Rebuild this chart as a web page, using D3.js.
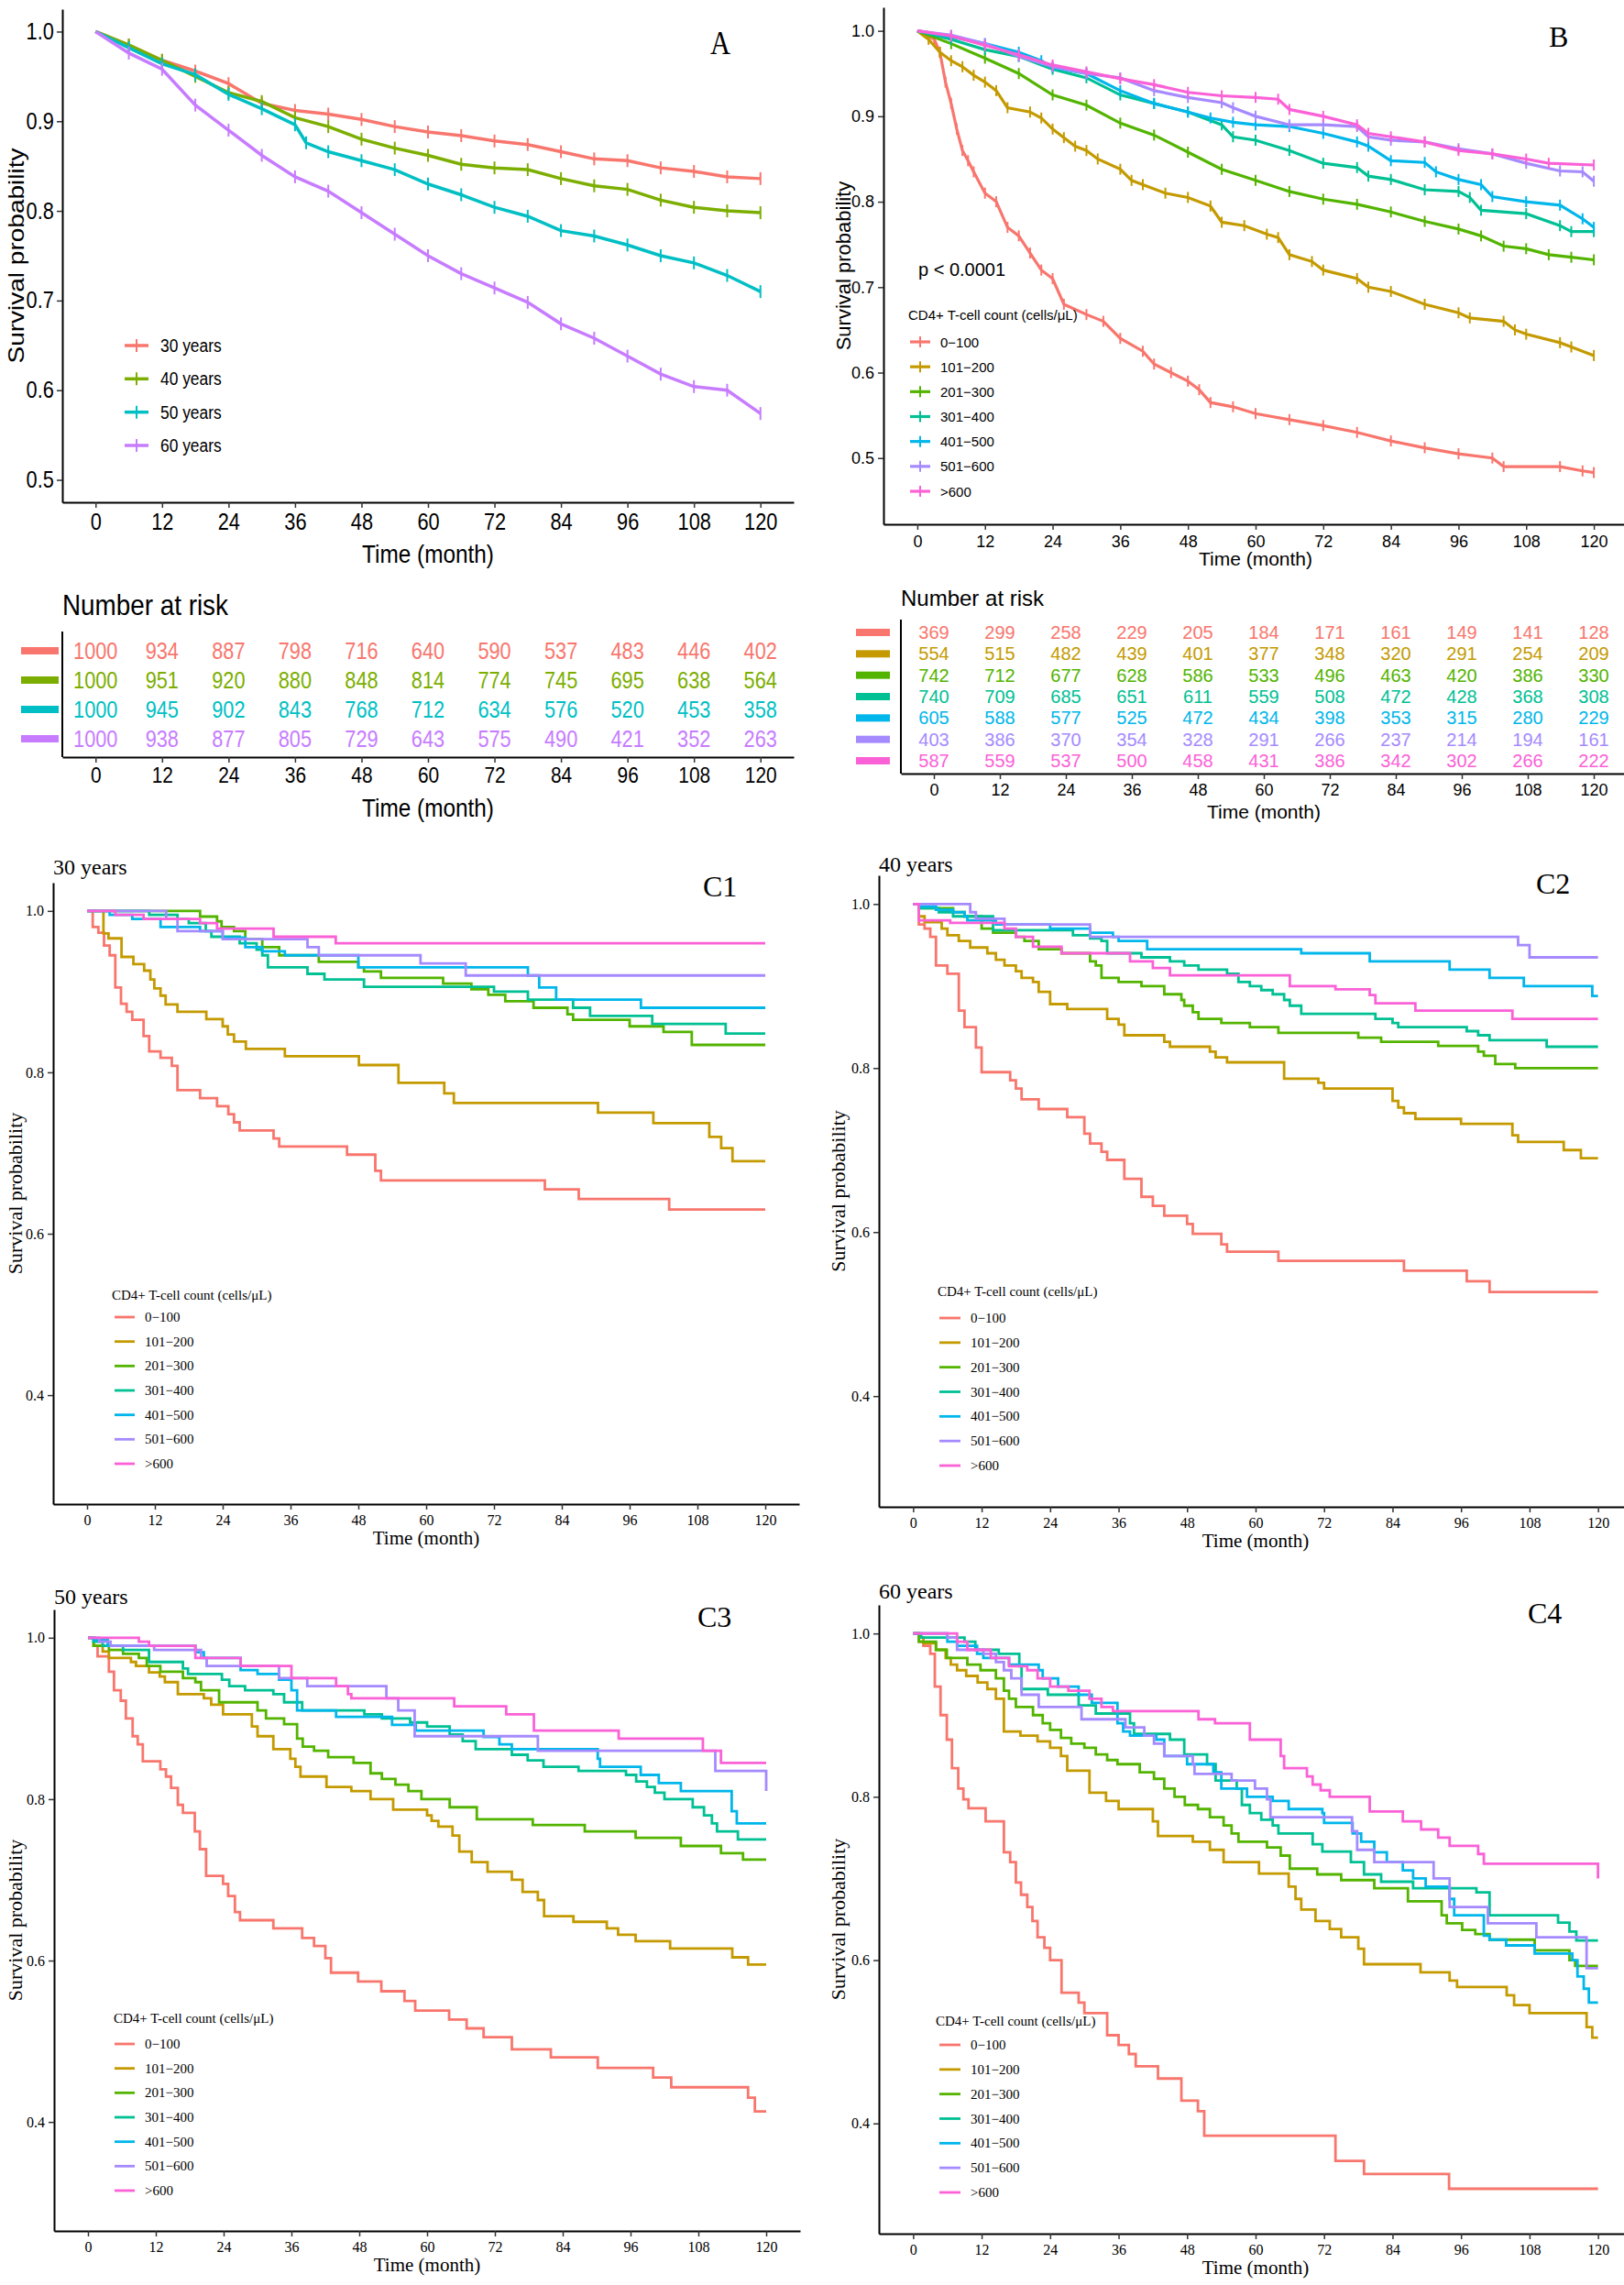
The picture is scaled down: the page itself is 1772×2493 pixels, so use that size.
<!DOCTYPE html>
<html>
<head>
<meta charset="utf-8">
<script src="https://cdn.jsdelivr.net/npm/d3@7"></script>
<style>
  body { margin: 0; background: #fff; }
  svg { display: block; }
</style>
</head>
<body>
<div class="wrapper"></div>
<script>
const width = 1772;
const height = 2493;
const sans = "'Liberation Sans', Arial, sans-serif";
const serif = "'Liberation Serif', 'Times New Roman', serif";

// categories
const months = [0, 12, 24, 36, 48, 60, 72, 84, 96, 108, 120];
const ageGroups = ["30 years", "40 years", "50 years", "60 years"];
const ageColors = ["#F8766D", "#7CAE00", "#00BFC4", "#C77CFF"];
const cd4Groups = ["0\u2212100", "101\u2212200", "201\u2212300", "301\u2212400", "401\u2212500", "501\u2212600", ">600"];
const cd4Colors = ["#F8766D", "#C49A00", "#53B400", "#00C094", "#00B6EB", "#A58AFF", "#FB61D7"];

// panel A: survival by age, [month, survival]
const survA30 = [[0,1],[6,.985],[12,.968],[18,.956],[24,.942],[30,.92],[36,.912],[42,.908],[48,.902],[54,.894],[60,.888],[66,.884],[72,.878],[78,.874],[84,.866],[90,.858],[96,.856],[102,.848],[108,.844],[114,.838],[120,.836]];
const survA40 = [[0,1],[6,.985],[12,.968],[18,.95],[24,.932],[30,.922],[36,.904],[42,.894],[48,.88],[54,.87],[60,.862],[66,.852],[72,.848],[78,.846],[84,.836],[90,.828],[96,.824],[102,.812],[108,.804],[114,.80],[120,.798]];
const survA50 = [[0,1],[6,.982],[12,.964],[18,.952],[24,.93],[30,.914],[36,.896],[38,.876],[42,.866],[48,.856],[54,.846],[60,.83],[66,.818],[72,.804],[78,.794],[84,.778],[90,.772],[96,.762],[102,.75],[108,.742],[114,.728],[120,.71]];
const survA60 = [[0,1],[6,.976],[12,.958],[18,.918],[24,.89],[30,.862],[36,.838],[42,.822],[48,.798],[54,.774],[60,.75],[66,.73],[72,.714],[78,.698],[84,.674],[90,.658],[96,.638],[102,.618],[108,.604],[114,.60],[120,.574]];

// panel A: number at risk
const riskA30 = [1000, 934, 887, 798, 716, 640, 590, 537, 483, 446, 402];
const riskA40 = [1000, 951, 920, 880, 848, 814, 774, 745, 695, 638, 564];
const riskA50 = [1000, 945, 902, 843, 768, 712, 634, 576, 520, 453, 358];
const riskA60 = [1000, 938, 877, 805, 729, 643, 575, 490, 421, 352, 263];

// panel B: survival by CD4 count
const survB1 = [[0,1],[3,.99],[4,.975],[5,.94],[6,.915],[7,.885],[8,.86],[9,.848],[10,.835],[12,.81],[14,.80],[16,.77],[18,.76],[20,.74],[22,.72],[24,.71],[26,.68],[30,.668],[33,.66],[36,.64],[40,.625],[42,.61],[45,.60],[48,.59],[50,.58],[52,.565],[56,.56],[60,.552],[66,.545],[72,.538],[78,.53],[84,.52],[90,.512],[96,.505],[102,.50],[104,.49],[114,.49],[118,.485],[120,.483]];
const survB2 = [[0,1],[2,.99],[4,.975],[6,.965],[8,.958],[10,.948],[12,.94],[14,.93],[16,.91],[20,.905],[22,.898],[24,.885],[26,.875],[28,.865],[30,.86],[32,.85],[36,.838],[38,.825],[40,.82],[44,.81],[48,.805],[52,.795],[54,.776],[58,.772],[62,.762],[64,.758],[66,.738],[70,.73],[72,.72],[78,.71],[80,.70],[84,.695],[90,.68],[96,.67],[98,.664],[104,.66],[106,.65],[108,.645],[114,.635],[116,.63],[120,.62]];
const survB3 = [[0,1],[6,.985],[12,.968],[18,.95],[24,.925],[30,.913],[36,.892],[42,.878],[48,.858],[54,.838],[60,.825],[66,.812],[72,.803],[78,.797],[84,.788],[90,.777],[96,.768],[100,.76],[104,.748],[108,.745],[112,.738],[116,.735],[120,.732]];
const survB4 = [[0,1],[6,.99],[12,.978],[18,.97],[24,.955],[30,.945],[36,.925],[42,.915],[48,.905],[54,.89],[56,.876],[60,.872],[66,.86],[72,.845],[78,.84],[80,.83],[84,.826],[90,.814],[96,.812],[98,.805],[100,.79],[108,.786],[114,.772],[116,.765],[120,.765]];
const survB5 = [[0,1],[6,.993],[12,.985],[18,.975],[22,.965],[24,.957],[30,.95],[36,.93],[42,.915],[48,.905],[52,.898],[56,.893],[60,.89],[66,.888],[72,.88],[78,.87],[80,.865],[84,.848],[90,.846],[92,.835],[96,.826],[100,.82],[102,.806],[108,.80],[114,.796],[118,.78],[120,.77]];
const survB6 = [[0,1],[6,.995],[12,.985],[18,.97],[24,.958],[30,.95],[36,.945],[42,.93],[48,.922],[54,.916],[56,.91],[60,.90],[66,.89],[72,.89],[78,.888],[80,.876],[84,.872],[90,.87],[96,.862],[102,.856],[108,.845],[114,.836],[118,.835],[120,.824]];
const survB7 = [[0,1],[6,.994],[12,.983],[18,.972],[24,.96],[30,.952],[36,.944],[42,.937],[48,.928],[54,.924],[60,.922],[64,.92],[66,.908],[72,.90],[78,.89],[80,.88],[84,.876],[90,.87],[96,.86],[102,.856],[108,.85],[112,.845],[120,.843]];

// panel B: number at risk
const riskB1 = [369, 299, 258, 229, 205, 184, 171, 161, 149, 141, 128];
const riskB2 = [554, 515, 482, 439, 401, 377, 348, 320, 291, 254, 209];
const riskB3 = [742, 712, 677, 628, 586, 533, 496, 463, 420, 386, 330];
const riskB4 = [740, 709, 685, 651, 611, 559, 508, 472, 428, 368, 308];
const riskB5 = [605, 588, 577, 525, 472, 434, 398, 353, 315, 280, 229];
const riskB6 = [403, 386, 370, 354, 328, 291, 266, 237, 214, 194, 161];
const riskB7 = [587, 559, 537, 500, 458, 431, 386, 342, 302, 266, 222];

// panel C1: 30 years, step points [month, survival after step]
const c1s1 = [[0,1],[1,.98],[2,.973],[3,.957],[4,.945],[5,.905],[6,.885],[7,.875],[8,.865],[10,.845],[11,.826],[13,.818],[15,.808],[16,.778],[20,.768],[23,.758],[25,.748],[26,.738],[27,.728],[33,.718],[34,.708],[46,.698],[51,.678],[52,.666],[81,.655],[87,.643],[103,.63],[120,.63]];
const c1s2 = [[0,1],[2.9,.972],[3.8,.966],[6.1,.943],[8.2,.934],[10.1,.926],[11.2,.915],[11.9,.904],[13,.895],[13.9,.884],[16,.875],[21.1,.866],[24,.857],[24.9,.847],[26,.838],[28.1,.829],[35,.82],[48.1,.809],[55.1,.787],[63.2,.774],[64.9,.762],[90.4,.75],[100.2,.737],[110.1,.72],[112.2,.706],[114.2,.69],[120,.69]];
const c1s3 = [[0,1],[20,.993],[23,.987],[23.8,.98],[26,.975],[28,.965],[31,.955],[34,.945],[41,.937],[48,.93],[49,.925],[52,.917],[63,.91],[68,.903],[71,.896],[74,.888],[79,.88],[85,.872],[86,.865],[96,.857],[102,.85],[107,.834],[120,.834]];
const c1s4 = [[0,1],[11,.995],[16,.99],[18,.985],[21,.975],[22,.968],[27,.96],[30,.952],[31,.945],[32,.93],[39,.922],[42,.915],[49,.906],[72,.9],[78,.89],[86,.88],[89,.87],[100,.86],[113,.848],[120,.848]];
const c1s5 = [[0,1],[4,.995],[8,.99],[13,.98],[20,.975],[24,.967],[28,.955],[31,.95],[35,.945],[48,.93],[78,.92],[80,.905],[83,.89],[98,.88],[120,.88]];
const c1s6 = [[0,1],[14,.99],[16,.975],[24,.965],[39,.955],[41,.945],[59,.935],[67,.92],[120,.92]];
const c1s7 = [[0,1],[5,.995],[10,.99],[20,.985],[23,.978],[33,.968],[44,.96],[120,.96]];

// panel C2: 40 years
const c2s1 = [[0,1],[1,.975],[2,.97],[3,.96],[4,.925],[6,.915],[8,.87],[9,.85],[11,.825],[12,.795],[17,.785],[18,.775],[19,.762],[22,.75],[27,.74],[30,.72],[31,.708],[33,.698],[34,.688],[37,.665],[40,.643],[42,.632],[44,.62],[48,.61],[49,.598],[54,.585],[55,.576],[64,.565],[86,.553],[97,.54],[101,.527],[120,.527]];
const c2s2 = [[0,1],[1,.985],[2,.978],[5,.97],[6,.962],[8,.955],[10,.947],[13,.94],[14.5,.932],[16,.925],[18,.918],[19,.91],[21,.905],[22,.893],[24,.878],[27,.872],[34,.86],[36,.853],[37,.84],[44,.832],[45,.826],[52,.82],[53,.813],[55,.807],[65,.787],[71,.782],[72,.775],[84,.76],[85,.752],[86,.745],[88,.738],[96,.732],[105,.718],[106,.71],[114,.7],[117,.69],[120,.69]];
const c2s3 = [[0,1],[1,.995],[7,.99],[9,.985],[12,.97],[14,.965],[18,.96],[19.5,.955],[22,.945],[26,.94],[31,.93],[32,.925],[33,.91],[36,.905],[40,.9],[44,.89],[47,.883],[47.5,.876],[49,.868],[50,.86],[54,.855],[59,.85],[64,.843],[78,.837],[82,.832],[92,.827],[99,.82],[100,.815],[102,.805],[105.5,.8],[120,.8]];
const c2s4 = [[0,1],[1,.995],[4.5,.99],[7,.985],[14,.968],[28,.962],[31,.958],[33,.955],[34,.94],[40,.935],[45,.93],[47.5,.925],[50,.92],[55,.915],[57,.905],[59,.9],[61,.895],[63,.89],[65,.883],[66,.876],[68,.866],[81,.86],[84,.855],[85,.85],[97,.845],[99,.84],[101,.834],[111,.826],[120,.826]];
const c2s5 = [[0,1],[1,.997],[4,.993],[7,.99],[9,.985],[9.5,.98],[14.5,.975],[24,.97],[31,.965],[35,.96],[36,.955],[41,.945],[68,.94],[80,.93],[94,.92],[101,.91],[107,.9],[119,.888],[120,.888]];
const c2s6 = [[0,1],[10,.99],[11,.982],[16,.975],[31,.96],[106,.95],[108,.935],[120,.935]];
const c2s7 = [[0,1],[1,.98],[6.5,.977],[16,.97],[18,.96],[21,.948],[26,.94],[38,.93],[42,.922],[45,.913],[66,.9],[74,.896],[80,.889],[81,.879],[88,.87],[105,.86],[120,.86]];

// panel C3: 50 years
const c3s1 = [[0,1],[1,.99],[1.7,.977],[3.7,.958],[4.6,.935],[5.8,.922],[6.7,.9],[7.9,.878],[8.8,.868],[9.7,.847],[12.8,.837],[13.8,.828],[14.7,.814],[15.9,.793],[16.8,.783],[18.9,.76],[19.8,.738],[20.9,.705],[23.9,.695],[24.8,.68],[26,.66],[26.9,.65],[32.8,.64],[37.9,.628],[40,.618],[42,.603],[43,.585],[47.8,.574],[51.9,.562],[56,.55],[57.9,.538],[63.9,.527],[67,.516],[70,.505],[75,.49],[81.9,.48],[90.2,.467],[100,.455],[103.2,.443],[116.8,.43],[118,.413],[120,.413]];
const c3s2 = [[0,1],[1,.99],[2.6,.983],[3.7,.975],[7.6,.97],[8.5,.965],[10.8,.957],[12.7,.952],[13.6,.945],[15.9,.93],[20.5,.925],[21.8,.917],[23.9,.905],[29,.89],[30,.878],[32.8,.862],[35.8,.85],[36.7,.84],[37.6,.828],[42.2,.815],[46.6,.81],[50,.8],[54,.787],[60,.78],[60.8,.773],[62,.766],[64.5,.755],[65.7,.735],[67.9,.722],[70.7,.71],[75,.7],[76.9,.685],[79.6,.675],[80.7,.655],[85.9,.648],[91.8,.64],[93.8,.632],[96.9,.624],[103,.615],[114,.604],[116.8,.595],[120,.595]];
const c3s3 = [[0,1],[1,.99],[3.7,.985],[6.2,.98],[9,.975],[10.4,.965],[12.8,.958],[16.8,.95],[19,.945],[20,.935],[23.2,.92],[30,.91],[31.5,.9],[34.7,.893],[37,.875],[38,.865],[40,.86],[42.5,.852],[47,.845],[50,.832],[52,.825],[54.4,.818],[56.7,.81],[59,.8],[64,.79],[68.8,.775],[78.7,.768],[87.9,.76],[96.9,.752],[104.9,.742],[112,.733],[115.9,.725],[120,.725]];
const c3s4 = [[0,1],[1,.995],[2.6,.99],[6.2,.985],[10.8,.97],[16.8,.962],[17.7,.955],[23.7,.948],[25,.94],[27.8,.935],[32.8,.93],[34.7,.92],[37.9,.91],[48.9,.905],[52,.9],[57,.895],[60,.89],[64,.88],[66.3,.872],[68.6,.862],[75,.855],[77.8,.848],[80.6,.84],[86.8,.835],[95.2,.83],[97,.822],[98.9,.815],[100.3,.808],[102,.8],[107,.79],[109,.78],[110.4,.77],[111.3,.76],[115,.75],[120,.75]];
const c3s5 = [[0,1],[1,.997],[3.5,.99],[19,.982],[20.5,.975],[27,.96],[30,.955],[33.8,.948],[36,.935],[37,.91],[43.9,.902],[53.8,.892],[58,.885],[70,.877],[72.8,.868],[75,.862],[90.2,.85],[90.6,.84],[97.8,.83],[101,.82],[104.9,.81],[113.9,.785],[114.8,.77],[120,.77]];
const c3s6 = [[0,1],[2,.995],[4,.99],[11.7,.985],[20,.975],[21,.965],[33.8,.95],[38.8,.94],[52.8,.925],[54.9,.91],[57.8,.878],[79.6,.86],[111,.835],[120,.81]];
const c3s7 = [[0,1],[9,.995],[10.8,.99],[19,.975],[27,.965],[36,.95],[43.9,.94],[46,.93],[46.6,.925],[64.8,.915],[74,.905],[78.9,.885],[93.9,.875],[108.8,.86],[112,.845],[120,.845]];

// panel C4: 60 years
const c4s1 = [[0,1],[1,.99],[1.8,.985],[3,.975],[3.8,.935],[4.8,.9],[5.9,.87],[6.8,.835],[7.9,.81],[8.8,.797],[9.7,.786],[12.7,.77],[15.9,.732],[17,.72],[18,.695],[18.9,.68],[20,.665],[20.9,.648],[21.8,.628],[23,.615],[24,.6],[26,.56],[29,.548],[30,.535],[34,.508],[36,.496],[37.8,.485],[39,.47],[42.9,.455],[47,.428],[49.9,.415],[51,.385],[74,.354],[79,.338],[93.9,.32],[120,.32]];
const c4s2 = [[0,1],[1,.995],[1.8,.988],[4,.98],[5.7,.97],[6.6,.962],[7.7,.955],[9.3,.948],[11.3,.94],[13,.932],[14.5,.92],[15.9,.88],[18.8,.875],[21.8,.868],[24,.86],[25.9,.85],[27,.832],[30.9,.805],[33.8,.795],[36,.785],[42,.77],[42.9,.752],[49,.745],[52,.735],[54.4,.72],[60.6,.706],[65.8,.69],[67,.675],[68,.662],[70.5,.648],[73,.638],[75,.628],[78,.614],[79,.595],[88.9,.585],[94,.575],[95.3,.567],[104,.557],[105.3,.545],[108,.535],[118,.518],[119,.505],[120,.505]];
const c4s3 = [[0,1],[1,.99],[4,.98],[5.9,.97],[9.5,.962],[11.8,.955],[14.5,.945],[15.9,.93],[16.8,.92],[18,.91],[21,.9],[22.7,.89],[24,.882],[25.9,.872],[27.7,.865],[30,.86],[32,.852],[34,.845],[35.8,.84],[39.7,.83],[42.2,.822],[44,.81],[45.8,.8],[47.6,.79],[49.9,.785],[52,.775],[54.4,.765],[55.8,.755],[57,.745],[62,.738],[64.4,.728],[66,.712],[70.8,.705],[75,.698],[80.8,.688],[86.7,.672],[92.6,.655],[93.5,.645],[96.2,.637],[98.5,.632],[101,.625],[108.9,.612],[115,.6],[116,.593],[120,.593]];
const c4s4 = [[0,1],[1.4,.995],[9,.99],[10.9,.98],[15,.975],[18.6,.96],[19,.932],[23.6,.925],[29,.912],[32,.902],[38,.89],[38.7,.877],[45,.87],[47.5,.852],[51.5,.84],[53,.82],[56.7,.81],[57.6,.79],[59,.78],[61,.772],[63,.765],[64,.755],[70,.742],[71.7,.733],[76.7,.72],[79,.705],[82,.696],[87.6,.688],[98.7,.683],[101,.655],[113,.646],[115,.635],[116.2,.624],[120,.624]];
const c4s5 = [[0,1],[6,.99],[7.7,.985],[11.2,.975],[12.3,.97],[16.8,.962],[22,.955],[22.7,.945],[25.4,.935],[29,.925],[31.3,.915],[35.8,.89],[36.8,.88],[38,.875],[42.6,.87],[44,.85],[48,.84],[52.6,.83],[54,.81],[58.5,.8],[63,.795],[65.8,.785],[71.7,.78],[72,.768],[77,.755],[78.5,.745],[80.8,.732],[83,.72],[85.8,.71],[87.6,.7],[89.8,.69],[94,.675],[94.8,.655],[100,.63],[101,.625],[103.9,.618],[108.9,.608],[115.5,.6],[116.4,.58],[117.5,.565],[118.4,.548],[120,.548]];
const c4s6 = [[0,1],[6,.995],[7.7,.98],[12.3,.975],[14.5,.965],[15.9,.955],[17.2,.945],[19,.925],[22,.91],[29.5,.895],[37.2,.885],[40.5,.875],[42.2,.865],[44,.85],[49,.84],[49.3,.828],[55.8,.82],[59.9,.81],[62,.797],[62.6,.775],[76.9,.758],[77.8,.735],[80.8,.72],[91.2,.7],[94,.665],[100.7,.645],[109.2,.628],[118,.59],[120,.59]];
const c4s7 = [[0,1],[7.7,.99],[9.5,.98],[13.6,.97],[16.8,.96],[20,.955],[21.8,.945],[24,.935],[27.2,.93],[30.9,.92],[33,.91],[35,.905],[50,.895],[52.9,.89],[59,.87],[64.4,.85],[65,.835],[69,.825],[70,.815],[71.4,.808],[73,.8],[80,.782],[85.8,.77],[89,.76],[92,.75],[94,.74],[99,.73],[100,.718],[120,.7]];

const svg = d3
  .select(".wrapper")
  .append("svg")
  .attr("width", width)
  .attr("height", height)
  .attr("viewBox", [0, 0, width, height]);

svg.append("rect").attr("width", width).attr("height", height).attr("fill", "#fff");

// place a text at (x, y) squeezed horizontally by k (panel A text is condensed)
const placeText = (sel, x, y, k, rotate) =>
  sel.attr("transform", `translate(${x},${y})${rotate ? " rotate(-90) scale(1," + k + ")" : " scale(" + k + ",1)"}`);

// one survival panel; left/right/top/bottom = axis frame in px, ylo = lower data limit
const drawPanel = (cfg) => {
  const k = cfg.k || 1;
  const x = d3.scaleLinear().domain([-6, 126]).range([cfg.left, cfg.right]);
  const ex = (1 - cfg.ylo) * 0.05;
  const y = d3.scaleLinear().domain([cfg.ylo - ex, 1 + ex]).range([cfg.bottom, cfg.top]);
  const g = svg.append("g");

  const xAxis = g
    .append("g")
    .attr("transform", `translate(0,${cfg.bottom})`)
    .call(d3.axisBottom(x).tickValues(months).tickSize(6).tickSizeOuter(0).tickPadding(cfg.pad));
  const yAxis = g
    .append("g")
    .attr("transform", `translate(${cfg.left},0)`)
    .call(d3.axisLeft(y).tickValues(cfg.yticks).tickFormat(d3.format(".1f")).tickSize(6).tickSizeOuter(0).tickPadding((cfg.pad - 2) / k));
  for (const ax of [xAxis, yAxis]) {
    ax.selectAll("path").attr("stroke", "#000").attr("stroke-width", 2);
    ax.selectAll("line").attr("stroke", "#333").attr("stroke-width", 1.5);
    ax.selectAll("text")
      .attr("fill", "#000")
      .attr("transform", `scale(${k},1)`)
      .style("font-family", cfg.font)
      .style("font-size", `${cfg.tickSize}px`);
  }

  const line = d3
    .line()
    .x((d) => x(d[0]))
    .y((d) => y(d[1]))
    .curve(cfg.step ? d3.curveStepAfter : d3.curveLinear);

  cfg.series.forEach((s, i) => {
    g.append("path")
      .attr("d", line(s))
      .attr("fill", "none")
      .attr("stroke", cfg.colors[i])
      .attr("stroke-width", cfg.lineW);
    if (cfg.censor) {
      g.append("g")
        .selectAll()
        .data(s.slice(1))
        .join("line")
        .attr("x1", (d) => x(d[0]))
        .attr("x2", (d) => x(d[0]))
        .attr("y1", (d) => y(d[1]) - cfg.censor)
        .attr("y2", (d) => y(d[1]) + cfg.censor)
        .attr("stroke", cfg.colors[i])
        .attr("stroke-width", 2);
    }
  });

  placeText(
    g.append("text")
      .attr("text-anchor", "middle")
      .attr("dominant-baseline", "central")
      .style("font-family", cfg.font)
      .style("font-size", `${cfg.xTitleSize}px`)
      .text("Time (month)"),
    (cfg.left + cfg.right) / 2, cfg.xTitleY, k
  );

  placeText(
    g.append("text")
      .attr("text-anchor", "middle")
      .attr("dominant-baseline", "central")
      .style("font-family", cfg.font)
      .style("font-size", `${cfg.yTitleSize}px`)
      .text("Survival probability"),
    cfg.yTitleX, (cfg.top + cfg.bottom) / 2, k, true
  );

  placeText(
    g.append("text")
      .style("font-family", serif)
      .style("font-size", `${cfg.tagSize}px`)
      .text(cfg.tag[2]),
    cfg.tag[0], cfg.tag[1], k
  );

  if (cfg.subtitle) {
    g.append("text")
      .attr("x", cfg.left)
      .attr("y", cfg.subtitle[1])
      .attr("dominant-baseline", "central")
      .style("font-family", serif)
      .style("font-size", "24px")
      .text(cfg.subtitle[0]);
  }

  // legend
  const lg = cfg.legend;
  const ly = d3.scalePoint().domain(cfg.groups).range([lg.y0, lg.y1]);
  if (lg.title) {
    g.append("text")
      .attr("x", lg.titleX)
      .attr("y", lg.titleY)
      .attr("dominant-baseline", "central")
      .style("font-family", cfg.font)
      .style("font-size", `${lg.size}px`)
      .text(lg.title);
  }
  const item = g.append("g").selectAll().data(cfg.groups).join("g");
  item
    .append("line")
    .attr("x1", lg.x0)
    .attr("x2", lg.x1)
    .attr("y1", (d) => ly(d))
    .attr("y2", (d) => ly(d))
    .attr("stroke", (d, i) => cfg.colors[i])
    .attr("stroke-width", cfg.lineW);
  if (cfg.censor) {
    item
      .append("line")
      .attr("x1", (lg.x0 + lg.x1) / 2)
      .attr("x2", (lg.x0 + lg.x1) / 2)
      .attr("y1", (d) => ly(d) - cfg.censor)
      .attr("y2", (d) => ly(d) + cfg.censor)
      .attr("stroke", (d, i) => cfg.colors[i])
      .attr("stroke-width", 2);
  }
  item
    .append("text")
    .attr("dominant-baseline", "central")
    .attr("transform", (d) => `translate(${lg.tx},${ly(d)}) scale(${k},1)`)
    .style("font-family", cfg.font)
    .style("font-size", `${lg.itemSize}px`)
    .text((d) => d);
  return g;
};

// number-at-risk table
const drawRisk = (cfg) => {
  const k = cfg.k || 1;
  const x = d3.scaleLinear().domain([-6, 126]).range([cfg.left, cfg.right]);
  const ry = d3.scalePoint().domain(cfg.groups).range([cfg.row0, cfg.row1]);
  const g = svg.append("g");

  placeText(
    g.append("text")
      .attr("dominant-baseline", "central")
      .style("font-family", sans)
      .style("font-size", `${cfg.titleSize}px`)
      .text("Number at risk"),
    cfg.left, cfg.titleY, k
  );

  const xAxis = g
    .append("g")
    .attr("transform", `translate(0,${cfg.bottom})`)
    .call(d3.axisBottom(x).tickValues(months).tickSize(6).tickSizeOuter(0).tickPadding(5));
  xAxis.selectAll("path").attr("stroke", "#000").attr("stroke-width", 2);
  xAxis.selectAll("line").attr("stroke", "#333").attr("stroke-width", 1.5);
  xAxis.selectAll("text")
    .attr("fill", "#000")
    .attr("transform", `scale(${k},1)`)
    .style("font-family", sans)
    .style("font-size", `${cfg.tickSize}px`);

  g.append("line")
    .attr("x1", cfg.left)
    .attr("x2", cfg.left)
    .attr("y1", cfg.top)
    .attr("y2", cfg.bottom)
    .attr("stroke", "#000")
    .attr("stroke-width", 2);

  cfg.groups.forEach((grp, i) => {
    g.append("rect")
      .attr("x", cfg.barX[0])
      .attr("y", ry(grp) - 4)
      .attr("width", cfg.barX[1] - cfg.barX[0])
      .attr("height", 8)
      .attr("fill", cfg.colors[i]);
    g.append("g")
      .selectAll()
      .data(cfg.values[i])
      .join("text")
      .attr("transform", (d, j) => `translate(${x(months[j])},${ry(grp)}) scale(${k},1)`)
      .attr("text-anchor", "middle")
      .attr("dominant-baseline", "central")
      .attr("fill", cfg.colors[i])
      .style("font-family", sans)
      .style("font-size", `${cfg.numSize}px`)
      .text((d) => d);
  });

  placeText(
    g.append("text")
      .attr("text-anchor", "middle")
      .attr("dominant-baseline", "central")
      .style("font-family", sans)
      .style("font-size", `${cfg.xTitleSize}px`)
      .text("Time (month)"),
    (cfg.left + cfg.right) / 2, cfg.xTitleY, k
  );
};

// A
drawPanel({
  left: 68, right: 866, top: 10, bottom: 548, ylo: 0.5, k: 0.87,
  yticks: [0.5, 0.6, 0.7, 0.8, 0.9, 1.0],
  series: [survA30, survA40, survA50, survA60], colors: ageColors, groups: ageGroups,
  font: sans, tickSize: 25, pad: 6, lineW: 3.5, step: false, censor: 7,
  xTitleY: 604, xTitleSize: 28, yTitleX: 18, yTitleSize: 28,
  tag: [775, 59, "A"], tagSize: 35,
  legend: { y0: 377, y1: 486, x0: 136, x1: 162, tx: 175, itemSize: 20 }
});
drawRisk({
  left: 68, right: 866, top: 689, bottom: 826, row0: 710, row1: 806, k: 0.87,
  groups: ageGroups, colors: ageColors,
  values: [riskA30, riskA40, riskA50, riskA60],
  barX: [23, 64], titleY: 660, titleSize: 32, numSize: 25, tickSize: 24,
  xTitleY: 881, xTitleSize: 28
});

// B
drawPanel({
  left: 964, right: 1776, top: 8, bottom: 572, ylo: 0.45,
  yticks: [0.5, 0.6, 0.7, 0.8, 0.9, 1.0],
  series: [survB1, survB2, survB3, survB4, survB5, survB6, survB7], colors: cd4Colors, groups: cd4Groups,
  font: sans, tickSize: 18, pad: 6, lineW: 3.2, step: false, censor: 6,
  xTitleY: 609, xTitleSize: 21, yTitleX: 920, yTitleSize: 22,
  tag: [1690, 51, "B"], tagSize: 32,
  legend: { title: "CD4+ T-cell count (cells/\u03bcL)", titleX: 991, titleY: 343, size: 15,
    y0: 373, y1: 536, x0: 993, x1: 1015, tx: 1026, itemSize: 15 }
});
svg.append("text")
  .attr("x", 1002)
  .attr("y", 294)
  .attr("dominant-baseline", "central")
  .style("font-family", sans)
  .style("font-size", "20px")
  .text("p < 0.0001");
drawRisk({
  left: 983, right: 1775, top: 676, bottom: 844, row0: 690, row1: 830,
  groups: cd4Groups, colors: cd4Colors,
  values: [riskB1, riskB2, riskB3, riskB4, riskB5, riskB6, riskB7],
  barX: [934, 971], titleY: 652, titleSize: 24, numSize: 20, tickSize: 18,
  xTitleY: 885, xTitleSize: 21
});

// C1-C4
const cPanels = [
  { left: 58, right: 872, top: 963, bottom: 1641, series: [c1s1, c1s2, c1s3, c1s4, c1s5, c1s6, c1s7],
    sub: ["30 years", 946], tag: [767, 978, "C1"], yTitleX: 16,
    legend: { x: 122, titleY: 1413, y0: 1437, y1: 1597, x0: 125, x1: 147, tx: 158 } },
  { left: 959, right: 1781, top: 955, bottom: 1644, series: [c2s1, c2s2, c2s3, c2s4, c2s5, c2s6, c2s7],
    sub: ["40 years", 943], tag: [1676, 975, "C2"], yTitleX: 914,
    legend: { x: 1023, titleY: 1409, y0: 1438, y1: 1599, x0: 1025, x1: 1048, tx: 1059 } },
  { left: 59, right: 873, top: 1756, bottom: 2434, series: [c3s1, c3s2, c3s3, c3s4, c3s5, c3s6, c3s7],
    sub: ["50 years", 1742], tag: [761, 1775, "C3"], yTitleX: 16,
    legend: { x: 124, titleY: 2202, y0: 2230, y1: 2390, x0: 125, x1: 147, tx: 158 } },
  { left: 959, right: 1781, top: 1751, bottom: 2437, series: [c4s1, c4s2, c4s3, c4s4, c4s5, c4s6, c4s7],
    sub: ["60 years", 1736], tag: [1667, 1771, "C4"], yTitleX: 914,
    legend: { x: 1021, titleY: 2205, y0: 2231, y1: 2392, x0: 1025, x1: 1048, tx: 1059 } }
];
for (const p of cPanels) {
  drawPanel({
    left: p.left, right: p.right, top: p.top, bottom: p.bottom, ylo: 0.3,
    yticks: [0.4, 0.6, 0.8, 1.0],
    series: p.series, colors: cd4Colors, groups: cd4Groups,
    font: serif, tickSize: 16, pad: 6, lineW: 2.8, step: true, censor: 0,
    xTitleY: p.bottom + 37, xTitleSize: 21, yTitleX: p.yTitleX, yTitleSize: 22,
    tag: p.tag, tagSize: 32, subtitle: p.sub,
    legend: { title: "CD4+ T-cell count (cells/\u03bcL)", titleX: p.legend.x, titleY: p.legend.titleY, size: 15,
      y0: p.legend.y0, y1: p.legend.y1, x0: p.legend.x0, x1: p.legend.x1, tx: p.legend.tx, itemSize: 15 }
  });
}
</script>
</body>
</html>
